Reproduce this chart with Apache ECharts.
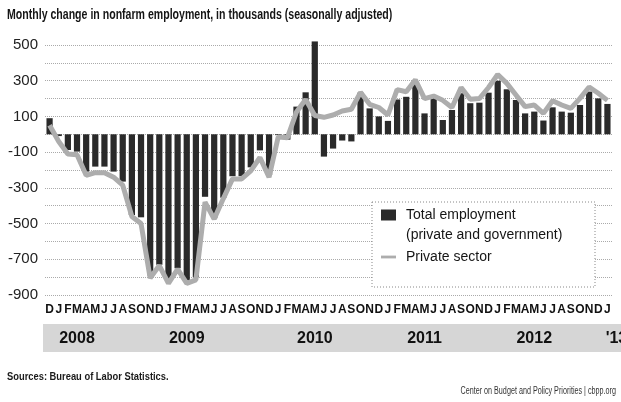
<!DOCTYPE html>
<html>
<head>
<meta charset="utf-8">
<script src="https://cdn.jsdelivr.net/npm/echarts@6/dist/echarts.min.js"></script>
<style>
  html, body { margin: 0; padding: 0; background: #fff; }
  #chart { width: 621px; height: 402px; }
</style>
</head>
<body>
<div id="chart"></div>
<script>
// Dec 2007 .. Jan 2013
var months = ['D',
  'J','F','M','A','M','J','J','A','S','O','N','D',
  'J','F','M','A','M','J','J','A','S','O','N','D',
  'J','F','M','A','M','J','J','A','S','O','N','D',
  'J','F','M','A','M','J','J','A','S','O','N','D',
  'J','F','M','A','M','J','J','A','S','O','N','D',
  'J'];

var yearLabels = ['2008', '2009', '2010', '2011', '2012', "'13"];
var yearIndex = [3, 15, 29, 41, 53, 61];

// thousands of jobs, total nonfarm
var totalJobs = [90,
  -10, -88, -97, -209, -181, -181, -209, -265, -452, -465, -790, -730,
  -820, -750, -825, -800, -350, -470, -355, -235, -235, -185, -90, -228,
  -5, -30, 155, 235, 520, -125, -80, -35, -40, 233, 145, 100,
  75, 195, 210, 290, 117, 210, 80, 136, 230, 174, 177, 233,
  300, 252, 192, 117, 127, 77, 151, 127, 121, 164, 239, 201,
  170];

// private sector only
var privateJobs = [50,
  -40, -110, -115, -230, -215, -215, -240, -285, -460, -500, -805, -735,
  -835, -755, -835, -815, -380, -475, -360, -250, -250, -205, -130, -240,
  -15, -20, 125, 195, 105, 95, 108, 130, 140, 235, 168, 150,
  108, 250, 238, 305, 200, 214, 190, 150, 262, 196, 200, 262,
  335, 285, 220, 155, 164, 117, 188, 164, 145, 201, 265, 230,
  190];

var font = '"Liberation Sans", Arial, sans-serif';
var ink = '#151515';
var myChart = echarts.init(document.getElementById('chart'));

myChart.setOption({
  backgroundColor: '#fff',
  animation: false,
  textStyle: { fontFamily: font },
  grid: { left: 45, right: 9, top: 45, bottom: 107, outerBoundsMode: 'none' },
  legend: {
    orient: 'vertical',
    left: 381, top: 208,
    padding: 0,
    itemGap: 28,
    itemWidth: 15, itemHeight: 11,
    textStyle: { fontFamily: font, fontSize: 14, color: ink, padding: [0, 0, 0, 5] },
    data: [
      { name: 'Total employment', icon: 'rect' },
      { name: 'Private sector', icon: 'path://M0,0H16V3H0Z', itemStyle: { color: '#adadad' } }
    ]
  },
  graphic: [
    // title and footnotes, squeezed to look like the condensed face of the original
    {
      type: 'text', left: 7, top: 8, scaleX: 0.755,
      style: { text: 'Monthly change in nonfarm employment, in thousands (seasonally adjusted)',
        font: 'bold 14px ' + font, fill: ink }
    },
    {
      type: 'text', left: 7, top: 371, scaleX: 0.85,
      style: { text: 'Sources: Bureau of Labor Statistics.', font: 'bold 11px ' + font, fill: '#1a1a1a' }
    },
    {
      type: 'text', right: 5, top: 386, scaleX: 0.72,
      style: { text: 'Center on Budget and Policy Priorities | cbpp.org', font: '10px ' + font, fill: '#333' }
    },
    // legend frame and second line of the first entry
    {
      type: 'rect', z: 3,
      shape: { x: 372, y: 202, width: 223, height: 85 },
      style: { fill: '#fff', stroke: '#888', lineWidth: 1, lineDash: [1, 2] }
    },
    {
      type: 'text', z: 4,
      style: {
        text: '(private and government)', x: 406, y: 235,
        verticalAlign: 'middle', font: '14px ' + font, fill: ink
      }
    },
    // grey band behind the years
    {
      type: 'rect', z: -1,
      shape: { x: 43, y: 324, width: 578, height: 28 },
      style: { fill: '#d6d6d6' }
    }
  ],
  xAxis: [
    {
      type: 'category',
      data: months,
      axisLine: { show: false },
      axisTick: { show: false },
      axisLabel: { interval: 0, margin: 9, fontSize: 12, fontWeight: 'bold', color: '#111', fontFamily: font }
    },
    {
      type: 'category',
      data: months,
      position: 'bottom',
      offset: 28,
      axisLine: { show: false },
      axisTick: { show: false },
      axisLabel: {
        interval: 0, margin: 8, fontSize: 16, fontWeight: 'bold', color: '#111', fontFamily: font,
        formatter: function (v, i) {
          var k = yearIndex.indexOf(i);
          if (k < 0) return '';
          if (k === yearLabels.length - 1) return '{r|' + yearLabels[k] + '}';
          return yearLabels[k];
        },
        rich: { r: { padding: [0, 0, 0, 18], fontSize: 16, fontWeight: 'bold', color: '#111', fontFamily: font } }
      }
    }
  ],
  yAxis: {
    type: 'value',
    min: -900, max: 500, interval: 100,
    axisLine: { show: false },
    axisTick: { show: false },
    axisLabel: {
      margin: 7, fontSize: 15, color: '#222', fontFamily: font,
      formatter: function (v) { return (v + 900) % 200 === 0 ? String(v) : ''; }
    },
    splitLine: { lineStyle: { type: 'dotted', color: '#aaa', width: 1 } }
  },
  series: [
    {
      name: 'Total employment',
      type: 'bar',
      barWidth: '68%',
      clip: false,
      itemStyle: { color: '#2a2a2a' },
      data: totalJobs,
      z: 2
    },
    {
      name: 'Private sector',
      type: 'line',
      symbol: 'none',
      lineStyle: { color: '#adadad', width: 5 },
      itemStyle: { color: '#adadad' },
      data: privateJobs,
      z: 3
    }
  ]
});
</script>
</body>
</html>
